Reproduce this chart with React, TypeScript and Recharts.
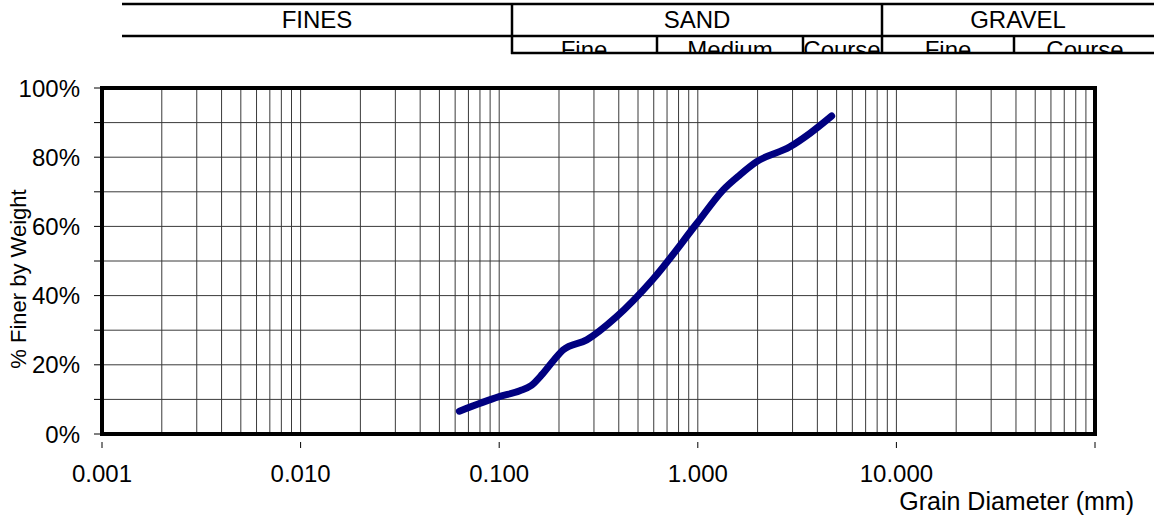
import React from 'react';
import { LineChart, Line, XAxis, YAxis, CartesianGrid, ReferenceArea } from 'recharts';

// Grain size distribution (sieve analysis)
const grainSize = [0.063, 0.1, 0.127, 0.145, 0.165, 0.19, 0.21, 0.276, 0.39, 0.59, 0.99, 1.34, 1.63, 1.98, 2.91, 3.67, 4.72];
const percentFiner = [6.6, 10.8, 12.5, 14.0, 17.3, 21.6, 24.3, 27.2, 33.9, 44.5, 60.9, 70.5, 74.9, 78.7, 83.0, 86.9, 91.9];

const decadeTicks = [0.001, 0.01, 0.1, 1, 10, 100];
const minorMultipliers = [2, 3, 4, 5, 6, 7, 8, 9];
const yTicks = [0, 10, 20, 30, 40, 50, 60, 70, 80, 90, 100];
const yLabelTicks = [0, 20, 40, 60, 80, 100];

const headerMain = ['FINES', 'SAND', 'GRAVEL'];
const headerSub = ['Fine', 'Medium', 'Course', 'Fine', 'Course'];

const data = grainSize.map((d, i) => ({ d, pct: percentFiner[i] }));

const xTicks: number[] = [];
decadeTicks.forEach((dec, i) => {
  xTicks.push(dec);
  if (i < decadeTicks.length - 1) minorMultipliers.forEach((m) => xTicks.push(parseFloat((m * dec).toPrecision(6))));
});

const FONT = '"Liberation Sans", Arial, sans-serif';
const FS = 24;

const XTick = (props: any) => {
  const { x, y, payload } = props;
  const v = payload.value;
  const isDecade = decadeTicks.some((d) => Math.abs(d - v) / d < 1e-6);
  if (!isDecade) return null;
  const showLabel = v < 100;
  return (
    <g>
      <line x1={x} x2={x} y1={y} y2={y + 6} stroke="#000" strokeWidth={1} />
      {showLabel && (
        <text x={x} y={y + 31} textAnchor="middle" dominantBaseline="central" fontSize={FS} fontFamily={FONT} fill="#000">
          {v.toFixed(3)}
        </text>
      )}
    </g>
  );
};

const YTick = (props: any) => {
  const { x, y, payload } = props;
  const v = payload.value;
  const show = yLabelTicks.includes(v);
  return (
    <g>
      <line x1={x} x2={x + 6} y1={y} y2={y} stroke="#000" strokeWidth={1} />
      {show && (
        <text x={x - 14} y={y} textAnchor="end" dominantBaseline="central" fontSize={FS} fontFamily={FONT} fill="#000">
          {v + '%'}
        </text>
      )}
    </g>
  );
};

const Header = () => {
  const top = 4;
  const mid = 36;
  const bot = 53;
  const subCells = [
    { x1: 512, x2: 657 },
    { x1: 657, x2: 803 },
    { x1: 803, x2: 882 },
    { x1: 882, x2: 1014 },
    { x1: 1014, x2: 1154 },
  ];
  const mainX = [317, 697, 1018];
  const subX = [584, 730, 842, 948, 1085];
  return (
    <svg width={1154} height={517} style={{ position: 'absolute', left: 0, top: 0, pointerEvents: 'none' }}>
      <defs>
        {subCells.map((c, i) => (
          <clipPath id={'sub' + i} key={i}>
            <rect x={c.x1} y={mid + 1} width={c.x2 - c.x1} height={bot - mid - 2} />
          </clipPath>
        ))}
      </defs>
      <line x1={122} x2={1154} y1={top} y2={top} stroke="#000" strokeWidth={2.5} />
      <line x1={122} x2={1154} y1={mid} y2={mid} stroke="#000" strokeWidth={2.5} />
      <line x1={511} x2={1154} y1={bot} y2={bot} stroke="#000" strokeWidth={2.5} />
      <line x1={512} x2={512} y1={top} y2={bot + 1} stroke="#000" strokeWidth={2.5} />
      <line x1={882} x2={882} y1={top} y2={bot + 1} stroke="#000" strokeWidth={2.5} />
      <line x1={657} x2={657} y1={mid} y2={bot + 1} stroke="#000" strokeWidth={2.5} />
      <line x1={803} x2={803} y1={mid} y2={bot + 1} stroke="#000" strokeWidth={2.5} />
      <line x1={1014} x2={1014} y1={mid} y2={bot + 1} stroke="#000" strokeWidth={2.5} />
      {headerMain.map((t, i) => (
        <text key={i} x={mainX[i]} y={28} textAnchor="middle" fontSize={FS} fontFamily={FONT} fill="#000">
          {t}
        </text>
      ))}
      {headerSub.map((t, i) => (
        <text key={i} clipPath={`url(#sub${i})`} x={subX[i]} y={58} textAnchor="middle" fontSize={FS} fontFamily={FONT} fill="#000">
          {t}
        </text>
      ))}
      <text transform="translate(26,279) rotate(-90)" textAnchor="middle" fontSize={22} fontFamily={FONT} fill="#000">
        % Finer by Weight
      </text>
      <text x={1134} y={510} textAnchor="end" fontSize={25} fontFamily={FONT} fill="#000">
        Grain Diameter (mm)
      </text>
    </svg>
  );
};

export default function App() {
  return (
    <div style={{ position: 'absolute', left: 0, top: 0, width: 1154, height: 517, background: '#fff' }}>
      <LineChart width={1154} height={517} data={data} margin={{ top: 88, right: 59, bottom: 53, left: 12 }}>
        <CartesianGrid stroke="#3a3a3a" strokeWidth={1} />
        <XAxis
          dataKey="d"
          type="number"
          scale="log"
          domain={[0.001, 100]}
          ticks={xTicks}
          interval={0}
          allowDataOverflow
          axisLine={false}
          tickLine={false}
          height={30}
          tick={<XTick />}
        />
        <YAxis
          type="number"
          domain={[0, 100]}
          ticks={yTicks}
          interval={0}
          width={90}
          axisLine={false}
          tickLine={false}
          tick={<YTick />}
        />
        <ReferenceArea x1={0.001} x2={100} y1={0} y2={100} fill="none" fillOpacity={0} stroke="#000" strokeWidth={4} ifOverflow="visible" />
        <Line
          type="monotone"
          dataKey="pct"
          stroke="#000080"
          strokeWidth={7}
          strokeLinecap="round"
          strokeLinejoin="round"
          dot={false}
          isAnimationActive={false}
        />
      </LineChart>
      <Header />
    </div>
  );
}
